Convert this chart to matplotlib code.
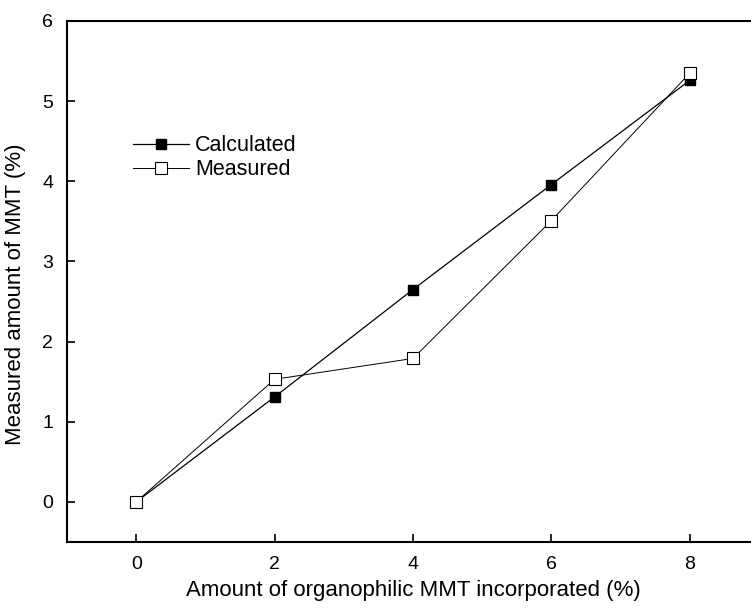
import matplotlib
matplotlib.use("Agg")
import matplotlib.pyplot as plt

plt.rcParams['font.family'] = ['Liberation Sans', 'DejaVu Sans']

mmt_added = [0, 2, 4, 6, 8]
calculated = [0, 1.31, 2.65, 3.96, 5.26]
measured = [0, 1.53, 1.79, 3.51, 5.35]

fig = plt.figure(figsize=(7.51, 6.12), dpi=100)
ax = fig.add_axes([67 / 751, 1 - 542 / 612, (759 - 67) / 751, (542 - 21) / 612])

ax.plot(mmt_added, calculated, color='black', lw=0.9, marker='s', ms=7,
        mfc='black', mec='black', label='Calculated')
ax.plot(mmt_added, measured, color='black', lw=0.7, marker='s', ms=8,
        mfc='white', mec='black', mew=0.8, label='Measured')

ax.set_xlim(-1, 9)
ax.set_ylim(-0.5, 6)
ax.set_xticks([0, 2, 4, 6, 8])
ax.set_yticks([0, 1, 2, 3, 4, 5, 6])
ax.tick_params(direction='in', length=6, width=1.2, labelsize=14, pad=10)
for s in ax.spines.values():
    s.set_linewidth(1.5)

ax.set_xlabel('Amount of organophilic MMT incorporated (%)', fontsize=16, labelpad=5)
ax.set_ylabel('Measured amount of MMT (%)', fontsize=16)
ax.yaxis.set_label_coords(-0.059, 0.475)

ax.legend(loc='upper left', bbox_to_anchor=(0.067, 0.818), frameon=False,
          fontsize=15.5, handlelength=2.6, handletextpad=0.3, labelspacing=0.15)

fig.savefig('out.png', dpi=100)
